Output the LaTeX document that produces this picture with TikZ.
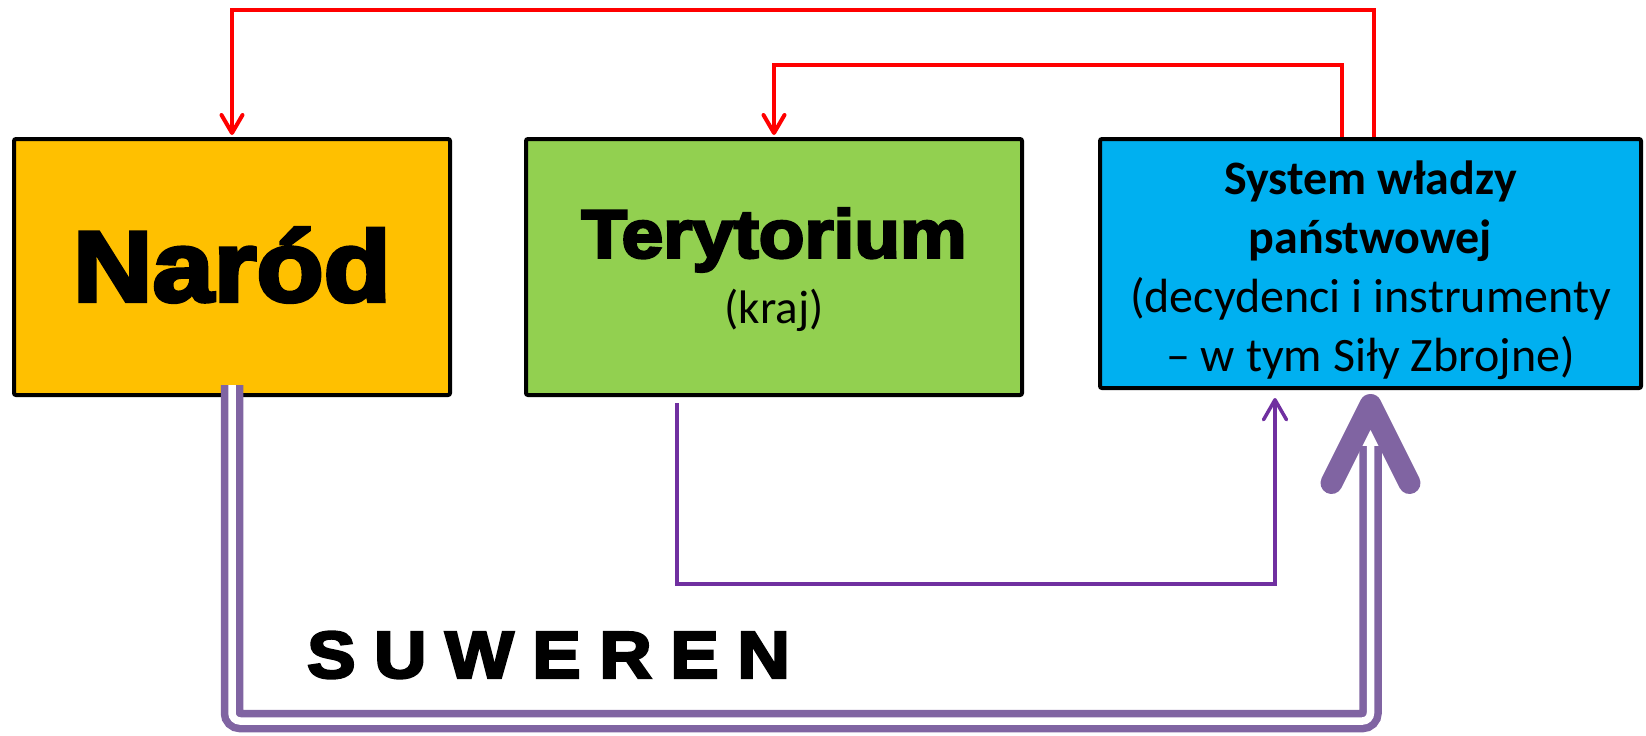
\documentclass[tikz,border=0pt]{standalone}
\usepackage{fontspec}
\setmainfont{Carlito}
\newfontfamily\heavyfont{Liberation Sans Bold}[FakeBold=4,FakeStretch=1.1]
\usetikzlibrary{arrows.meta,positioning,calc}

\definecolor{narodfill}{HTML}{FFC000}
\definecolor{terfill}{HTML}{92D050}
\definecolor{sysfill}{HTML}{00B0F0}
\definecolor{rulered}{HTML}{FF0000}
\definecolor{landviolet}{HTML}{7030A0}
\definecolor{sovviolet}{HTML}{8064A2}

\begin{document}
\begin{tikzpicture}[x=0.5pt,y=-0.5pt,
    box/.style={draw=black,line width=2pt,rounded corners=1pt,inner sep=0pt},
    boxtext/.style={inner sep=0pt,align=center,font=\fontsize{24}{29.5}\selectfont},
    rulearrow/.style={rulered,line width=2pt,-{Straight Barb[length=9pt,width=10.5pt,round]}},
    landarrow/.style={landviolet,line width=1.75pt,-{Straight Barb[length=10pt,width=11.5pt,round]}},
    sovline/.style={sovviolet,line width=3.75pt,double=white,double distance=3.75pt,rounded corners=4pt},
    sovhead/.style={sovviolet,line width=11pt,line cap=round,line join=round}]
        \useasboundingbox (0,0) rectangle (1646,735);

        % Boxes
        \node[box,fill=narodfill,minimum width=218pt,minimum height=128pt] (narod) at (232,267) {};
        \node[box,fill=terfill,minimum width=248pt,minimum height=128pt] (ter) at (774,267) {};
        \node[box,fill=sysfill,minimum width=270.5pt,minimum height=124.5pt] (system) at (1370.5,263.5) {};

        % Box texts
        \node[boxtext,font=\heavyfont\fontsize{50}{60}\selectfont] (narodtext) at ([yshift=1pt]narod.center) {Naród};
        \node[boxtext,font=\fontsize{23.5}{30}\selectfont] (tertext) at ([yshift=-1.5pt]ter.center)
            {{\heavyfont\fontsize{34}{30}\selectfont Terytorium}\\[3pt](kraj)};
        \node[boxtext] (systemtext) at ([yshift=-3.25pt]system.center)
            {\textbf{System władzy}\\\textbf{państwowej}\\(decydenci i instrumenty\\– w tym Siły Zbrojne)};

        % Label
        \node[inner sep=0pt,font=\heavyfont\fontsize{33}{40}\selectfont] (suweren) at (548.5,655)
            {\spaceskip=9.3pt S U W E R E N};

        % Helper coordinates
        \coordinate (outerlevel) at (0,10);
        \coordinate (innerlevel) at (0,65);
        \coordinate (landlevel) at (0,584);
        \coordinate (sovlevel) at (0,721);
        \coordinate (sysin) at ([xshift=-47.75pt,yshift=-4pt]system.south);

        % Red arcs from the power system
        \draw[rulearrow] ([xshift=1.75pt]system.north) |- (outerlevel -| narod.north) -- ([yshift=1pt]narod.north);
        \draw[rulearrow] ([xshift=-14.25pt]system.north) |- (innerlevel -| ter.north) -- ([yshift=1pt]ter.north);

        % Territory to power system
        \draw[landarrow] ([xshift=-48.5pt,yshift=-3pt]ter.south) |- (landlevel -| sysin) -- (sysin);

        % Sovereign double arc
        \draw[sovline] ([yshift=6pt]narod.south) |- (sovlevel -| system.south) -- ([yshift=-28pt]system.south);
        \draw[sovhead] ($(system.south)+(-39,93)$) -- ($(system.south)+(0,15)$) -- ($(system.south)+(39,93)$);
    \end{tikzpicture}
\end{document}
